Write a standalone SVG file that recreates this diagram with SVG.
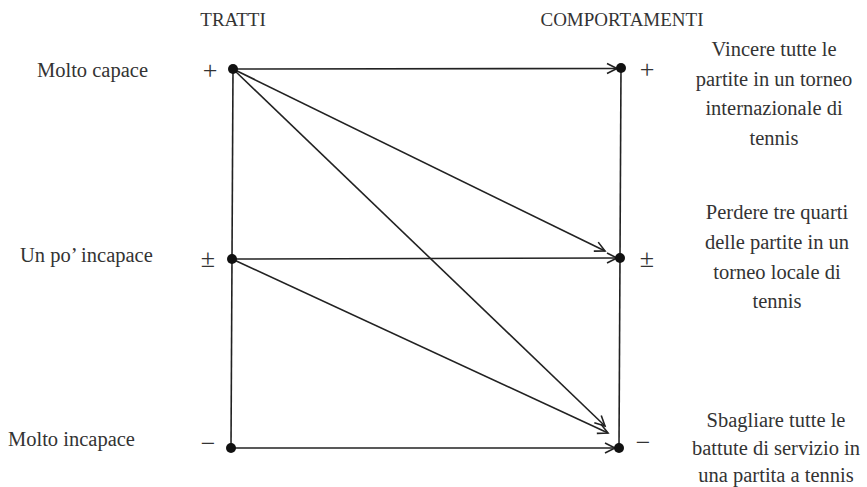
<svg xmlns="http://www.w3.org/2000/svg" width="867" height="487" viewBox="0 0 867 487" font-family="'Liberation Serif', 'Times New Roman', serif">
<defs>
<style>
text{font-family:'Liberation Serif','Times New Roman',serif;font-size:20.5px;fill:#333}
.h{font-size:19px}
.s{font-size:26px}
.m{text-anchor:middle}
.ln{stroke:#222;stroke-width:1.6;fill:none}
.ar{stroke:#222;stroke-width:1.6;fill:none;marker-end:url(#ah)}
.dot{fill:#111}
</style>
<marker id="ah" markerUnits="userSpaceOnUse" markerWidth="14" markerHeight="14" refX="11" refY="6" orient="auto" viewBox="0 0 14 12">
<path d="M1,1 L11,6 L1,11" fill="none" stroke="#222" stroke-width="1.6"/>
</marker>
</defs>
<rect width="867" height="487" fill="#fff"/>
<g id="headers">
<text class="h m" x="233" y="26">TRATTI</text>
<text class="h m" x="622" y="26">COMPORTAMENTI</text>
</g>
<g id="connectors">
<line class="ln" x1="233" y1="69" x2="231" y2="448"/>
<line class="ln" x1="621" y1="68" x2="619" y2="448"/>
<line class="ar" x1="233" y1="69" x2="617" y2="68.5"/>
<line class="ar" x1="233" y1="69" x2="605" y2="251"/>
<line class="ar" x1="233" y1="69" x2="605" y2="426"/>
<line class="ar" x1="232" y1="259" x2="617" y2="258"/>
<line class="ar" x1="232" y1="259" x2="608" y2="433"/>
<line class="ar" x1="231" y1="448" x2="615" y2="448"/>
</g>
<g id="trait-high">
<text x="37" y="77">Molto capace</text>
<text class="m s" x="210" y="79">+</text>
<circle class="dot" cx="233" cy="69" r="5"/>
</g>
<g id="trait-mid">
<text x="20" y="262">Un po’ incapace</text>
<text class="m s" x="208" y="267">±</text>
<circle class="dot" cx="232" cy="259" r="5"/>
</g>
<g id="trait-low">
<text x="8" y="446">Molto incapace</text>
<text class="m s" x="208" y="452">−</text>
<circle class="dot" cx="231" cy="448" r="5"/>
</g>
<g id="behav-high">
<circle class="dot" cx="621" cy="68" r="5"/>
<text class="m s" x="647" y="78">+</text>
<text class="m" x="774" y="56">Vincere tutte le</text>
<text class="m" x="774" y="86">partite in un torneo</text>
<text class="m" x="774" y="115">internazionale di</text>
<text class="m" x="774" y="145">tennis</text>
</g>
<g id="behav-mid">
<circle class="dot" cx="620" cy="258" r="5"/>
<text class="m s" x="647" y="267">±</text>
<text class="m" x="777" y="219">Perdere tre quarti</text>
<text class="m" x="777" y="249">delle partite in un</text>
<text class="m" x="777" y="279">torneo locale di</text>
<text class="m" x="777" y="308">tennis</text>
</g>
<g id="behav-low">
<circle class="dot" cx="619" cy="448" r="5"/>
<text class="m s" x="643" y="451">−</text>
<text class="m" x="776" y="427">Sbagliare tutte le</text>
<text class="m" x="776" y="455">battute di servizio in</text>
<text class="m" x="776" y="482">una partita a tennis</text>
</g>
</svg>
